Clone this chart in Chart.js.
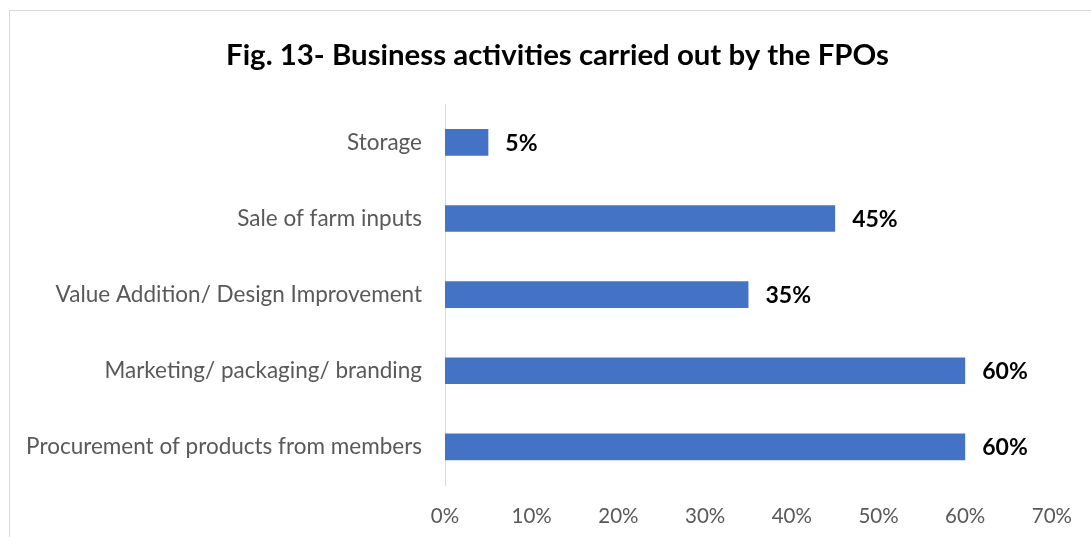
<!DOCTYPE html>
<html>
<head>
<meta charset="utf-8">
<script src="https://cdn.jsdelivr.net/npm/chart.js@4.4.0/dist/chart.umd.min.js"></script>
<style>
    html, body { margin: 0; padding: 0; background: #fff; overflow: hidden; }
    #wrap { position: relative; width: 1091px; height: 537px; }
    #frame {
        position: absolute; left: 9px; top: 10px; width: 1200px; height: 600px;
        border-left: 1px solid #d9d9d9; border-top: 1px solid #d9d9d9;
    }
    canvas { position: absolute; left: 0; top: 0; }
</style>
</head>
<body>
<div id="wrap">
    <div id="frame"></div>
    <canvas id="chart" width="1091" height="537"></canvas>
</div>
<script>
const categories = [
    'Storage',
    'Sale of farm inputs',
    'Value Addition/ Design Improvement',
    'Marketing/ packaging/ branding',
    'Procurement of products from members'
];
const shares = [5, 45, 35, 60, 60];
const xTicks = [0, 10, 20, 30, 40, 50, 60, 70];

const FONT = "Lato, 'Noto Sans', sans-serif";
const AXIS_X = 445;

// labels printed just past the end of each bar
const barValueLabels = {
    id: 'barValueLabels',
    afterDatasetsDraw(chart) {
        const ctx = chart.ctx;
        const meta = chart.getDatasetMeta(0);
        ctx.save();
        ctx.font = `bold 23px ${FONT}`;
        ctx.fillStyle = '#000';
        ctx.textAlign = 'left';
        ctx.textBaseline = 'middle';
        meta.data.forEach((bar, i) => {
            ctx.fillText(shares[i] + '%', bar.x + 17, bar.y + 1);
        });
        ctx.restore();
    }
};

// title sits a little right of the canvas centre
const titleShift = {
    id: 'titleShift',
    afterLayout(chart) {
        const tb = chart.titleBlock;
        if (tb) {
            tb.left = 41;
            tb.right = chart.width - 17;
            tb.width = tb.right - tb.left;
        }
    }
};

document.addEventListener('DOMContentLoaded', () => {
    const ctx = document.getElementById('chart');
    new Chart(ctx, {
        type: 'bar',
        data: {
            labels: categories,
            datasets: [{
                data: shares,
                backgroundColor: '#4472C4',
                categoryPercentage: 1,
                barPercentage: 0.35
            }]
        },
        options: {
            indexAxis: 'y',
            responsive: false,
            animation: false,
            layout: { padding: { left: 0, right: 15, top: 0, bottom: 0 } },
            plugins: {
                legend: { display: false },
                tooltip: { enabled: false },
                title: {
                    display: true,
                    text: 'Fig. 13- Business activities carried out by the FPOs',
                    color: '#000',
                    font: { family: FONT, size: 29.4, weight: 'bold' },
                    padding: { top: 38, bottom: 31 }
                }
            },
            scales: {
                x: {
                    min: 0,
                    max: 70,
                    afterBuildTicks(scale) {
                        scale.ticks = xTicks.map(v => ({ value: v }));
                    },
                    afterFit(scale) { scale.height = 52; },
                    grid: { display: false, drawTicks: false },
                    border: { display: false },
                    ticks: {
                        color: '#595959',
                        font: { family: FONT, size: 20.5 },
                        padding: 19,
                        callback: v => v + '%'
                    }
                },
                y: {
                    grid: { display: false, drawTicks: false },
                    border: { color: '#d9d9d9', width: 1 },
                    afterFit(scale) { scale.width = AXIS_X; },
                    ticks: {
                        color: '#595959',
                        font: { family: FONT, size: 22.5 },
                        padding: 23
                    }
                }
            }
        },
        plugins: [barValueLabels, titleShift]
    });
});
</script>
</body>
</html>
